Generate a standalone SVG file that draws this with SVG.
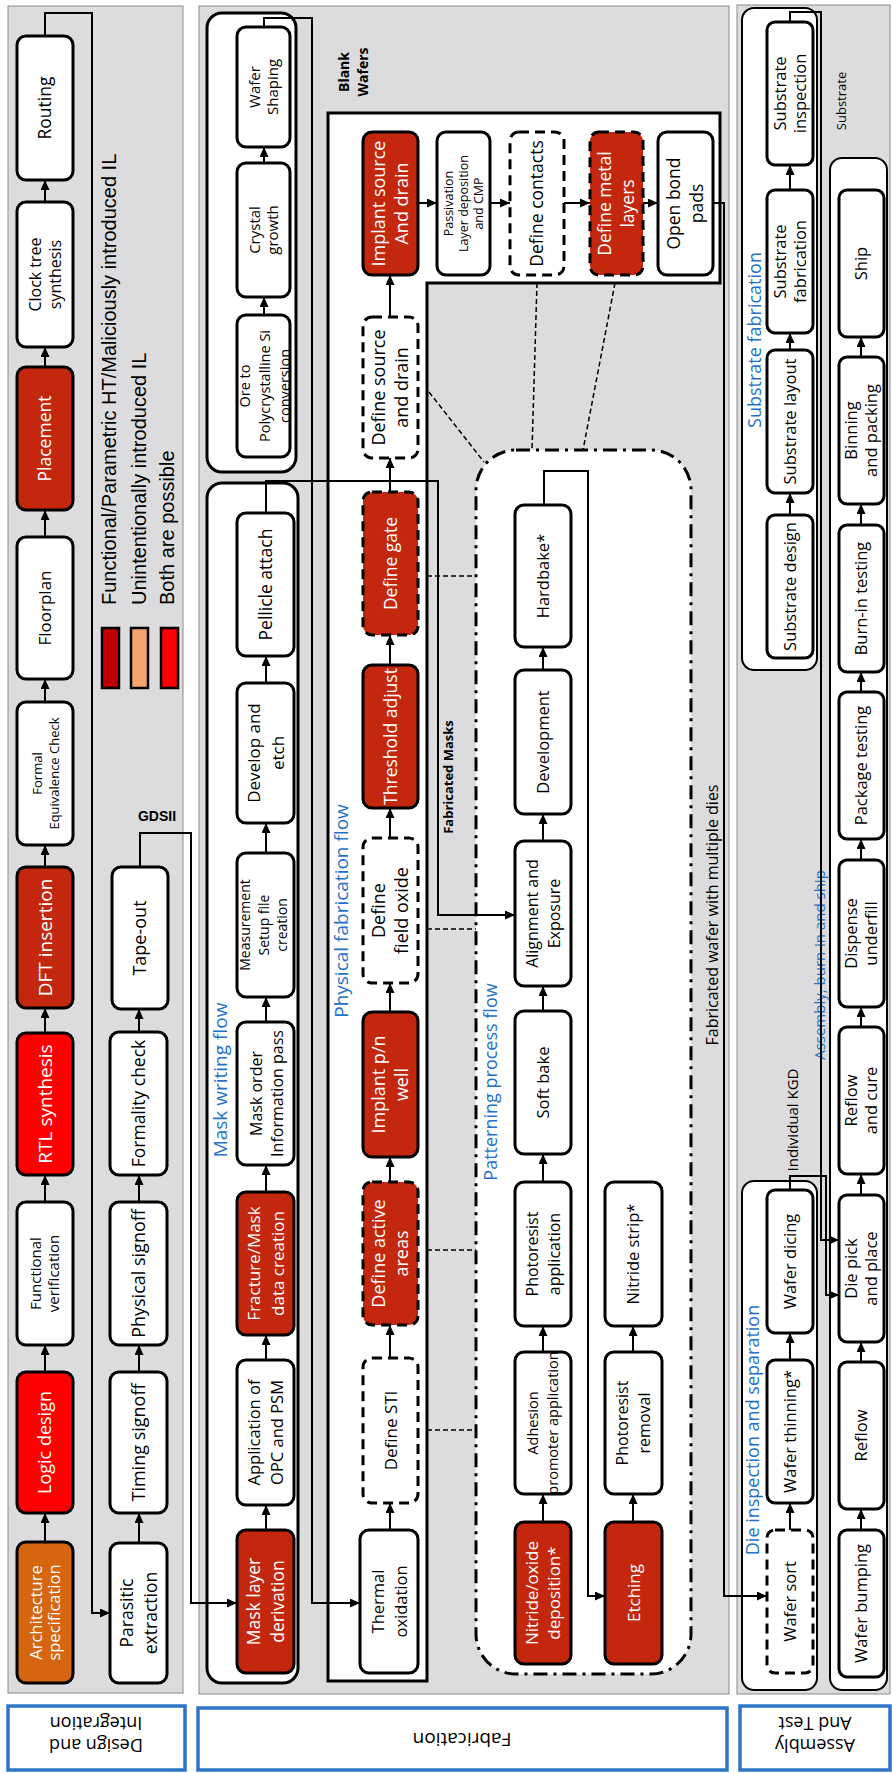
<svg xmlns="http://www.w3.org/2000/svg" width="892" height="1773" viewBox="0 0 892 1773">
<style>
.panel{fill:#DCDCDE;stroke:#8A8A8A;stroke-width:1}
.cont{fill:#fff;stroke:#000;stroke-width:3}
.n{fill:#fff;stroke:#000;stroke-width:3}
.r{fill:#C3280F}
.b{fill:#FF0000}
.o{fill:#D5660F}
.d{stroke-dasharray:10 6}
.t{font-family:"Open Sans","Liberation Sans",sans-serif;fill:#000;text-anchor:middle}
.w{fill:#fff}
.blue{font-family:"Open Sans","Liberation Sans",sans-serif;fill:#2472C8;text-anchor:middle}
.a{fill:none;stroke:#000;stroke-width:2;marker-end:url(#ah)}
.dl{fill:none;stroke:#000;stroke-width:1.5;stroke-dasharray:5 3}
.lab{fill:#fff;stroke:#2E75C8;stroke-width:3.5}
.leg{font-family:"Liberation Sans",Arial,sans-serif;font-size:20px;fill:#000}
</style>
<defs>
<marker id="ah" viewBox="0 0 10 9" refX="10" refY="4.5" markerWidth="10" markerHeight="9" markerUnits="userSpaceOnUse" orient="auto"><path d="M0,0 L10,4.5 L0,9 z" fill="#000"/></marker>
</defs>

<g id="panels">
<rect class="panel" x="8" y="6" width="175" height="1687"/>
<rect class="panel" x="199" y="6" width="530" height="1688"/>
<rect class="panel" x="737" y="5" width="153" height="1689"/>
</g>

<g id="label-design">
<rect class="lab" x="8" y="1706" width="177" height="64"/>
<text class="t" font-size="18" transform="translate(96,1738) rotate(180)"><tspan x="0" y="-1">Design and</tspan><tspan x="0" y="21">Integration</tspan></text>
</g>
<g id="label-fab">
<rect class="lab" x="198" y="1708" width="529" height="62"/>
<text class="t" font-size="19" transform="translate(462,1739) rotate(180)"><tspan x="0" y="6.5">Fabrication</tspan></text>
</g>
<g id="label-assembly">
<rect class="lab" x="740" y="1706" width="150" height="64"/>
<text class="t" font-size="18" transform="translate(815,1738) rotate(180)"><tspan x="0" y="-1">Assembly</tspan><tspan x="0" y="21">And Test</tspan></text>
</g>

<g id="containers">
<rect class="cont" x="207" y="13" width="89" height="459" rx="15"/>
<rect class="cont" x="207" y="483" width="91" height="1200" rx="15"/>
<path class="cont" d="M328,113 H720 V283 H427 V1681 H328 Z"/>
<rect class="cont" x="476" y="450" width="215" height="1224" rx="40" stroke-dasharray="14 6 3 6"/>
<rect x="742" y="8" width="75" height="662" rx="12" fill="#fff" stroke="#000" stroke-width="2"/>
<rect x="742" y="1181" width="75" height="509" rx="12" fill="#fff" stroke="#000" stroke-width="2"/>
<rect x="830" y="158" width="57" height="1532" rx="12" fill="#fff" stroke="#000" stroke-width="2"/>
</g>

<g id="legend">
<rect x="102" y="628" width="17" height="60" fill="#C00000" stroke="#000" stroke-width="2.5"/>
<rect x="131" y="628" width="17" height="60" fill="#F4A46C" stroke="#000" stroke-width="2.5"/>
<rect x="161" y="628" width="17" height="60" fill="#FF0000" stroke="#000" stroke-width="2.5"/>
<text class="leg" transform="translate(116,605) rotate(-90)">Functional/Parametric HT/Maliciously introduced IL</text>
<text class="leg" transform="translate(146,605) rotate(-90)">Unintentionally introduced IL</text>
<text class="leg" transform="translate(174,605) rotate(-90)">Both are possible</text>
</g>

<g id="labels">
<text x="157" y="821" font-family="Liberation Sans,Arial,sans-serif" font-weight="bold" font-size="14" text-anchor="middle">GDSII</text>
<text class="blue" font-size="19" transform="translate(227,1080) rotate(-90)">Mask writing flow</text>
<text class="blue" font-size="19" transform="translate(348,911) rotate(-90)">Physical fabrication flow</text>
<text class="blue" font-size="18" transform="translate(497,1082) rotate(-90)">Patterning process flow</text>
<text class="blue" font-size="18" transform="translate(761,340) rotate(-90)">Substrate fabrication</text>
<text class="blue" font-size="18" transform="translate(759,1430) rotate(-90)">Die inspection and separation</text>
<text class="blue" font-size="15" transform="translate(825,965) rotate(-90)">Assembly, burn-in and ship</text>
<text class="t" font-size="16" transform="translate(718,915) rotate(-90)">Fabricated wafer with multiple dies</text>
<text class="t" font-size="14" font-weight="bold" transform="translate(358,72) rotate(-90)"><tspan x="0" y="-9">Blank</tspan><tspan x="0" y="10">Wafers</tspan></text>
<text class="t" font-size="13" font-weight="bold" transform="translate(453,777) rotate(-90)">Fabricated Masks</text>
<text class="t" font-size="15" transform="translate(798,1120) rotate(-90)">Individual KGD</text>
<text class="t" font-size="13" transform="translate(846,101) rotate(-90)">Substrate</text>
</g>

<g id="connectors">
<path class="a" d="M45,1542 V1513"/>
<path class="a" d="M45,1372 V1345"/>
<path class="a" d="M45,1202 V1175"/>
<path class="a" d="M45,1033 V1008"/>
<path class="a" d="M45,867 V845"/>
<path class="a" d="M45,702 V679"/>
<path class="a" d="M45,537 V510"/>
<path class="a" d="M45,367 V347"/>
<path class="a" d="M45,202 V180"/>
<path class="a" d="M139,1543 V1513"/>
<path class="a" d="M139,1372 V1345"/>
<path class="a" d="M139,1202 V1175"/>
<path class="a" d="M139,1032 V1009"/>
<path class="a" d="M45,36 V13 H92 V1613 H110"/>
<path class="a" d="M140,867 V833 H191 V1603 H237"/>
<path class="a" d="M264,315 V297"/>
<path class="a" d="M264,163 V147"/>
<path class="a" d="M264,27 V18 H312 V1603 H360"/>
<path class="a" d="M266,1530 V1505"/>
<path class="a" d="M266,1360 V1335"/>
<path class="a" d="M266,1192 V1165"/>
<path class="a" d="M266,1022 V997"/>
<path class="a" d="M266,853 V823"/>
<path class="a" d="M266,683 V656"/>
<path class="a" d="M266,513 V481 H438 V915 H515"/>
<path class="a" d="M390,1530 V1503"/>
<path class="a" d="M390,1358 V1325"/>
<path class="a" d="M390,1182 V1157"/>
<path class="a" d="M390,1012 V983"/>
<path class="a" d="M390,838 V808"/>
<path class="a" d="M390,665 V635"/>
<path class="a" d="M390,492 V458"/>
<path class="a" d="M390,317 V275"/>
<path class="a" d="M418,203 H437"/>
<path class="a" d="M490,203 H510"/>
<path class="a" d="M564,203 H590"/>
<path class="a" d="M643,203 H658"/>
<path class="a" d="M543,1522 V1494"/>
<path class="a" d="M543,1352 V1326"/>
<path class="a" d="M543,1182 V1154"/>
<path class="a" d="M543,1011 V986"/>
<path class="a" d="M543,841 V814"/>
<path class="a" d="M543,670 V647"/>
<path class="a" d="M633,1522 V1494"/>
<path class="a" d="M633,1352 V1326"/>
<path class="a" d="M544,505 V471 H588 V1596 H605"/>
<path class="a" d="M713,203 H724 V1596 H767"/>
<path class="dl" d="M427,576 H476"/>
<path class="dl" d="M427,929 H476"/>
<path class="dl" d="M427,1250 H476"/>
<path class="dl" d="M427,1430 H476"/>
<path class="dl" d="M429,392 L484,462"/>
<path class="dl" d="M537,283 L532,450"/>
<path class="dl" d="M615,283 L583,450"/>
<path class="a" d="M790,515 V493"/>
<path class="a" d="M790,350 V333"/>
<path class="a" d="M790,190 V165"/>
<path class="a" d="M790,1530 V1503"/>
<path class="a" d="M790,1360 V1333"/>
<path class="a" d="M790,22 V12 H821 V1240 H839"/>
<path class="a" d="M790,1190 V1176 H826 V1295 H839"/>
<path class="a" d="M861,1530 V1509"/>
<path class="a" d="M861,1362 V1342"/>
<path class="a" d="M861,1195 V1174"/>
<path class="a" d="M861,1027 V1007"/>
<path class="a" d="M861,860 V839"/>
<path class="a" d="M861,692 V672"/>
<path class="a" d="M861,525 V504"/>
<path class="a" d="M861,357 V337"/>
</g>

<g id="routing"><rect class="n" x="17" y="36" width="56" height="144" rx="9"/><text class="t" font-size="17.5" transform="translate(45,108) rotate(-90)"><tspan x="0" y="6">Routing</tspan></text></g>
<g id="clock-tree"><rect class="n" x="17" y="202" width="56" height="145" rx="9"/><text class="t" font-size="16" transform="translate(45,274.5) rotate(-90)"><tspan x="0" y="-4.4">Clock tree</tspan><tspan x="0" y="15.6">synthesis</tspan></text></g>
<g id="placement"><rect class="n r" x="17" y="367" width="56" height="143" rx="9"/><text class="t w" font-size="17.5" transform="translate(45,438.5) rotate(-90)"><tspan x="0" y="6">Placement</tspan></text></g>
<g id="floorplan"><rect class="n" x="17" y="537" width="56" height="142" rx="9"/><text class="t" font-size="17" transform="translate(45,608) rotate(-90)"><tspan x="0" y="6">Floorplan</tspan></text></g>
<g id="formal-eq"><rect class="n" x="17" y="702" width="56" height="143" rx="9"/><text class="t" font-size="13" transform="translate(45,773.5) rotate(-90)"><tspan x="0" y="-3.5">Formal</tspan><tspan x="0" y="13.5">Equivalence Check</tspan></text></g>
<g id="dft"><rect class="n r" x="17" y="867" width="56" height="141" rx="9"/><text class="t w" font-size="19" transform="translate(45,937.5) rotate(-90)"><tspan x="0" y="6.6">DFT insertion</tspan></text></g>
<g id="rtl"><rect class="n b" x="17" y="1033" width="56" height="142" rx="9"/><text class="t w" font-size="19" transform="translate(45,1104) rotate(-90)"><tspan x="0" y="6.6">RTL synthesis</tspan></text></g>
<g id="func-ver"><rect class="n" x="17" y="1202" width="56" height="143" rx="9"/><text class="t" font-size="15" transform="translate(45,1273.5) rotate(-90)"><tspan x="0" y="-3.8">Functional</tspan><tspan x="0" y="14.2">verification</tspan></text></g>
<g id="logic"><rect class="n b" x="17" y="1372" width="56" height="141" rx="9"/><text class="t w" font-size="18" transform="translate(45,1442.5) rotate(-90)"><tspan x="0" y="6.3">Logic design</tspan></text></g>
<g id="arch"><rect class="n o" x="17" y="1542" width="56" height="141" rx="9"/><text class="t w" font-size="16.5" transform="translate(45,1612.5) rotate(-90)"><tspan x="0" y="-3.2">Architecture</tspan><tspan x="0" y="14.8">specification</tspan></text></g>
<g id="parasitic"><rect class="n" x="110" y="1543" width="57" height="140" rx="9"/><text class="t" font-size="17.5" transform="translate(138.5,1613) rotate(-90)"><tspan x="0" y="-6">Parasitic</tspan><tspan x="0" y="18">extraction</tspan></text></g>
<g id="timing"><rect class="n" x="110" y="1372" width="57" height="141" rx="9"/><text class="t" font-size="18" transform="translate(138.5,1442.5) rotate(-90)"><tspan x="0" y="6.3">Timing signoff</tspan></text></g>
<g id="physical-signoff"><rect class="n" x="110" y="1202" width="57" height="143" rx="9"/><text class="t" font-size="18" transform="translate(138.5,1273.5) rotate(-90)"><tspan x="0" y="6.3">Physical signoff</tspan></text></g>
<g id="formality"><rect class="n" x="110" y="1032" width="57" height="143" rx="9"/><text class="t" font-size="17.5" transform="translate(138.5,1103.5) rotate(-90)"><tspan x="0" y="6.1">Formality check</tspan></text></g>
<g id="tapeout"><rect class="n" x="112" y="867" width="56" height="142" rx="9"/><text class="t" font-size="18" transform="translate(140,938) rotate(-90)"><tspan x="0" y="6.3">Tape-out</tspan></text></g>

<g id="wafer-shaping"><rect class="n" x="237" y="27" width="53" height="120" rx="9"/><text class="t" font-size="15" transform="translate(263.5,87) rotate(-90)"><tspan x="0" y="-3.8">Wafer</tspan><tspan x="0" y="14.2">Shaping</tspan></text></g>
<g id="crystal"><rect class="n" x="237" y="163" width="53" height="134" rx="9"/><text class="t" font-size="15" transform="translate(263.5,230) rotate(-90)"><tspan x="0" y="-3.8">Crystal</tspan><tspan x="0" y="14.2">growth</tspan></text></g>
<g id="ore"><rect class="n" x="237" y="315" width="53" height="142" rx="9"/><text class="t" font-size="14.5" transform="translate(263.5,386) rotate(-90)"><tspan x="0" y="-13.5">Ore to</tspan><tspan x="0" y="6.5">Polycrystalline Si</tspan><tspan x="0" y="26.5">conversion</tspan></text></g>

<g id="pellicle"><rect class="n" x="237" y="513" width="57" height="143" rx="9"/><text class="t" font-size="17.5" transform="translate(265.5,584.5) rotate(-90)"><tspan x="0" y="6.1">Pellicle attach</tspan></text></g>
<g id="develop-etch"><rect class="n" x="237" y="683" width="57" height="140" rx="9"/><text class="t" font-size="17" transform="translate(265.5,753) rotate(-90)"><tspan x="0" y="-6">Develop and</tspan><tspan x="0" y="18">etch</tspan></text></g>
<g id="measurement"><rect class="n" x="237" y="853" width="57" height="144" rx="9"/><text class="t" font-size="14" transform="translate(265.5,925) rotate(-90)"><tspan x="0" y="-15.5">Measurement</tspan><tspan x="0" y="3">Setup file</tspan><tspan x="0" y="21.5">creation</tspan></text></g>
<g id="mask-order"><rect class="n" x="237" y="1022" width="57" height="143" rx="9"/><text class="t" font-size="16" transform="translate(265.5,1093.5) rotate(-90)"><tspan x="0" y="-4">Mask order</tspan><tspan x="0" y="17.5">Information pass</tspan></text></g>
<g id="fracture"><rect class="n r" x="237" y="1192" width="57" height="143" rx="9"/><text class="t w" font-size="17" transform="translate(265.5,1263.5) rotate(-90)"><tspan x="0" y="-6">Fracture/Mask</tspan><tspan x="0" y="18">data creation</tspan></text></g>
<g id="opc"><rect class="n" x="237" y="1360" width="57" height="145" rx="9"/><text class="t" font-size="16.5" transform="translate(265.5,1432.5) rotate(-90)"><tspan x="0" y="-5.5">Application of</tspan><tspan x="0" y="17.5">OPC and PSM</tspan></text></g>
<g id="mask-layer"><rect class="n r" x="237" y="1530" width="57" height="143" rx="9"/><text class="t w" font-size="17.5" transform="translate(265.5,1601.5) rotate(-90)"><tspan x="0" y="-6">Mask layer</tspan><tspan x="0" y="18">derivation</tspan></text></g>

<g id="implant-sd"><rect class="n r" x="363" y="132" width="55" height="143" rx="9"/><text class="t w" font-size="18" transform="translate(390.5,203.5) rotate(-90)"><tspan x="0" y="-6">Implant source</tspan><tspan x="0" y="17">And drain</tspan></text></g>
<g id="define-sd"><rect class="n d" x="363" y="317" width="55" height="141" rx="9"/><text class="t" font-size="18" transform="translate(390.5,387.5) rotate(-90)"><tspan x="0" y="-6">Define source</tspan><tspan x="0" y="17">and drain</tspan></text></g>
<g id="define-gate"><rect class="n r d" x="363" y="492" width="55" height="143" rx="9"/><text class="t w" font-size="17.5" transform="translate(390.5,563.5) rotate(-90)"><tspan x="0" y="6.1">Define gate</tspan></text></g>
<g id="threshold"><rect class="n r" x="363" y="665" width="55" height="143" rx="9"/><text class="t w" font-size="17.5" transform="translate(390.5,736.5) rotate(-90)"><tspan x="0" y="6.1">Threshold adjust</tspan></text></g>
<g id="field-oxide"><rect class="n d" x="363" y="838" width="55" height="145" rx="9"/><text class="t" font-size="18" transform="translate(390.5,910.5) rotate(-90)"><tspan x="0" y="-6">Define</tspan><tspan x="0" y="17">field oxide</tspan></text></g>
<g id="implant-well"><rect class="n r" x="363" y="1012" width="55" height="145" rx="9"/><text class="t w" font-size="18" transform="translate(390.5,1084.5) rotate(-90)"><tspan x="0" y="-6">Implant p/n</tspan><tspan x="0" y="17">well</tspan></text></g>
<g id="active-areas"><rect class="n r d" x="363" y="1182" width="55" height="143" rx="9"/><text class="t w" font-size="18" transform="translate(390.5,1253.5) rotate(-90)"><tspan x="0" y="-6">Define active</tspan><tspan x="0" y="17">areas</tspan></text></g>
<g id="sti"><rect class="n d" x="363" y="1358" width="55" height="145" rx="9"/><text class="t" font-size="17" transform="translate(390.5,1430.5) rotate(-90)"><tspan x="0" y="6">Define STI</tspan></text></g>
<g id="thermal"><rect class="n" x="360" y="1530" width="58" height="143" rx="9"/><text class="t" font-size="16.5" transform="translate(389,1601.5) rotate(-90)"><tspan x="0" y="-5.5">Thermal</tspan><tspan x="0" y="17.5">oxidation</tspan></text></g>
<g id="passivation"><rect class="n" x="437" y="132" width="53" height="143" rx="9"/><text class="t" font-size="12.5" transform="translate(463.5,203.5) rotate(-90)"><tspan x="0" y="-11">Passivation</tspan><tspan x="0" y="4">Layer deposition</tspan><tspan x="0" y="19">and CMP</tspan></text></g>
<g id="contacts"><rect class="n d" x="510" y="132" width="54" height="143" rx="9"/><text class="t" font-size="17.5" transform="translate(537,203.5) rotate(-90)"><tspan x="0" y="6.1">Define contacts</tspan></text></g>
<g id="metal"><rect class="n r d" x="590" y="132" width="53" height="143" rx="9"/><text class="t w" font-size="17.5" transform="translate(616.5,203.5) rotate(-90)"><tspan x="0" y="-5.5">Define metal</tspan><tspan x="0" y="17.5">layers</tspan></text></g>
<g id="bond-pads"><rect class="n" x="658" y="132" width="55" height="143" rx="9"/><text class="t" font-size="17.5" transform="translate(685.5,203.5) rotate(-90)"><tspan x="0" y="-5.5">Open bond</tspan><tspan x="0" y="17.5">pads</tspan></text></g>

<g id="hardbake"><rect class="n" x="515" y="505" width="56" height="142" rx="9"/><text class="t" font-size="16.5" transform="translate(543,576) rotate(-90)"><tspan x="0" y="5.8">Hardbake*</tspan></text></g>
<g id="development"><rect class="n" x="515" y="670" width="56" height="144" rx="9"/><text class="t" font-size="16.5" transform="translate(543,742) rotate(-90)"><tspan x="0" y="5.8">Development</tspan></text></g>
<g id="alignment"><rect class="n" x="515" y="841" width="56" height="145" rx="9"/><text class="t" font-size="16" transform="translate(543,913.5) rotate(-90)"><tspan x="0" y="-5.4">Alignment and</tspan><tspan x="0" y="16.6">Exposure</tspan></text></g>
<g id="softbake"><rect class="n" x="515" y="1011" width="56" height="143" rx="9"/><text class="t" font-size="16.5" transform="translate(543,1082.5) rotate(-90)"><tspan x="0" y="5.8">Soft bake</tspan></text></g>
<g id="pr-app"><rect class="n" x="515" y="1182" width="56" height="144" rx="9"/><text class="t" font-size="16" transform="translate(543,1254) rotate(-90)"><tspan x="0" y="-5.4">Photoresist</tspan><tspan x="0" y="16.6">application</tspan></text></g>
<g id="adhesion"><rect class="n" x="515" y="1352" width="56" height="142" rx="9"/><text class="t" font-size="14.5" transform="translate(543,1423) rotate(-90)"><tspan x="0" y="-5">Adhesion</tspan><tspan x="0" y="15">promoter application</tspan></text></g>
<g id="nitride-dep"><rect class="n r" x="515" y="1522" width="56" height="142" rx="9"/><text class="t w" font-size="17" transform="translate(543,1593) rotate(-90)"><tspan x="0" y="-5">Nitride/oxide</tspan><tspan x="0" y="17">deposition*</tspan></text></g>
<g id="nitride-strip"><rect class="n" x="605" y="1182" width="57" height="144" rx="9"/><text class="t" font-size="16.5" transform="translate(633.5,1254) rotate(-90)"><tspan x="0" y="5.8">Nitride strip*</tspan></text></g>
<g id="pr-removal"><rect class="n" x="605" y="1352" width="57" height="142" rx="9"/><text class="t" font-size="16" transform="translate(633.5,1423) rotate(-90)"><tspan x="0" y="-5.4">Photoresist</tspan><tspan x="0" y="16.6">removal</tspan></text></g>
<g id="etching"><rect class="n r" x="605" y="1522" width="57" height="142" rx="9"/><text class="t w" font-size="17" transform="translate(633.5,1593) rotate(-90)"><tspan x="0" y="6">Etching</tspan></text></g>

<g id="sub-insp"><rect class="n" x="767" y="22" width="46" height="143" rx="8"/><text class="t" font-size="16.5" transform="translate(790,93.5) rotate(-90)"><tspan x="0" y="-4.5">Substrate</tspan><tspan x="0" y="15.5">inspection</tspan></text></g>
<g id="sub-fab"><rect class="n" x="767" y="190" width="46" height="143" rx="8"/><text class="t" font-size="16.5" transform="translate(790,261.5) rotate(-90)"><tspan x="0" y="-4.5">Substrate</tspan><tspan x="0" y="15.5">fabrication</tspan></text></g>
<g id="sub-layout"><rect class="n" x="767" y="350" width="46" height="143" rx="8"/><text class="t" font-size="16.5" transform="translate(790,421.5) rotate(-90)"><tspan x="0" y="5.8">Substrate layout</tspan></text></g>
<g id="sub-design"><rect class="n" x="767" y="515" width="46" height="143" rx="8"/><text class="t" font-size="16.5" transform="translate(790,586.5) rotate(-90)"><tspan x="0" y="5.8">Substrate design</tspan></text></g>

<g id="dicing"><rect class="n" x="767" y="1190" width="46" height="143" rx="8"/><text class="t" font-size="16.5" transform="translate(790,1261.5) rotate(-90)"><tspan x="0" y="5.8">Wafer dicing</tspan></text></g>
<g id="thinning"><rect class="n" x="767" y="1360" width="46" height="143" rx="8"/><text class="t" font-size="16.5" transform="translate(790,1431.5) rotate(-90)"><tspan x="0" y="5.8">Wafer thinning*</tspan></text></g>
<g id="sort"><rect class="n d" x="767" y="1530" width="46" height="143" rx="8"/><text class="t" font-size="16.5" transform="translate(790,1601.5) rotate(-90)"><tspan x="0" y="5.8">Wafer sort</tspan></text></g>

<g id="ship"><rect class="n" x="839" y="190" width="45" height="147" rx="8"/><text class="t" font-size="16.5" transform="translate(861.5,263.5) rotate(-90)"><tspan x="0" y="5.8">Ship</tspan></text></g>
<g id="binning"><rect class="n" x="839" y="357" width="45" height="147" rx="8"/><text class="t" font-size="16.5" transform="translate(861.5,430.5) rotate(-90)"><tspan x="0" y="-4.5">Binning</tspan><tspan x="0" y="15.5">and packing</tspan></text></g>
<g id="burnin"><rect class="n" x="839" y="525" width="45" height="147" rx="8"/><text class="t" font-size="16.5" transform="translate(861.5,598.5) rotate(-90)"><tspan x="0" y="5.8">Burn-in testing</tspan></text></g>
<g id="pkg-test"><rect class="n" x="839" y="692" width="45" height="147" rx="8"/><text class="t" font-size="16.5" transform="translate(861.5,765.5) rotate(-90)"><tspan x="0" y="5.8">Package testing</tspan></text></g>
<g id="underfill"><rect class="n" x="839" y="860" width="45" height="147" rx="8"/><text class="t" font-size="16.5" transform="translate(861.5,933.5) rotate(-90)"><tspan x="0" y="-4.5">Dispense</tspan><tspan x="0" y="15.5">underfill</tspan></text></g>
<g id="reflow-cure"><rect class="n" x="839" y="1027" width="45" height="147" rx="8"/><text class="t" font-size="16.5" transform="translate(861.5,1100.5) rotate(-90)"><tspan x="0" y="-4.5">Reflow</tspan><tspan x="0" y="15.5">and cure</tspan></text></g>
<g id="pick-place"><rect class="n" x="839" y="1195" width="45" height="147" rx="8"/><text class="t" font-size="16.5" transform="translate(861.5,1268.5) rotate(-90)"><tspan x="0" y="-4.5">Die pick</tspan><tspan x="0" y="15.5">and place</tspan></text></g>
<g id="reflow"><rect class="n" x="839" y="1362" width="45" height="147" rx="8"/><text class="t" font-size="16.5" transform="translate(861.5,1435.5) rotate(-90)"><tspan x="0" y="5.8">Reflow</tspan></text></g>
<g id="bumping"><rect class="n" x="839" y="1530" width="45" height="147" rx="8"/><text class="t" font-size="16.5" transform="translate(861.5,1603.5) rotate(-90)"><tspan x="0" y="5.8">Wafer bumping</tspan></text></g>
</svg>
